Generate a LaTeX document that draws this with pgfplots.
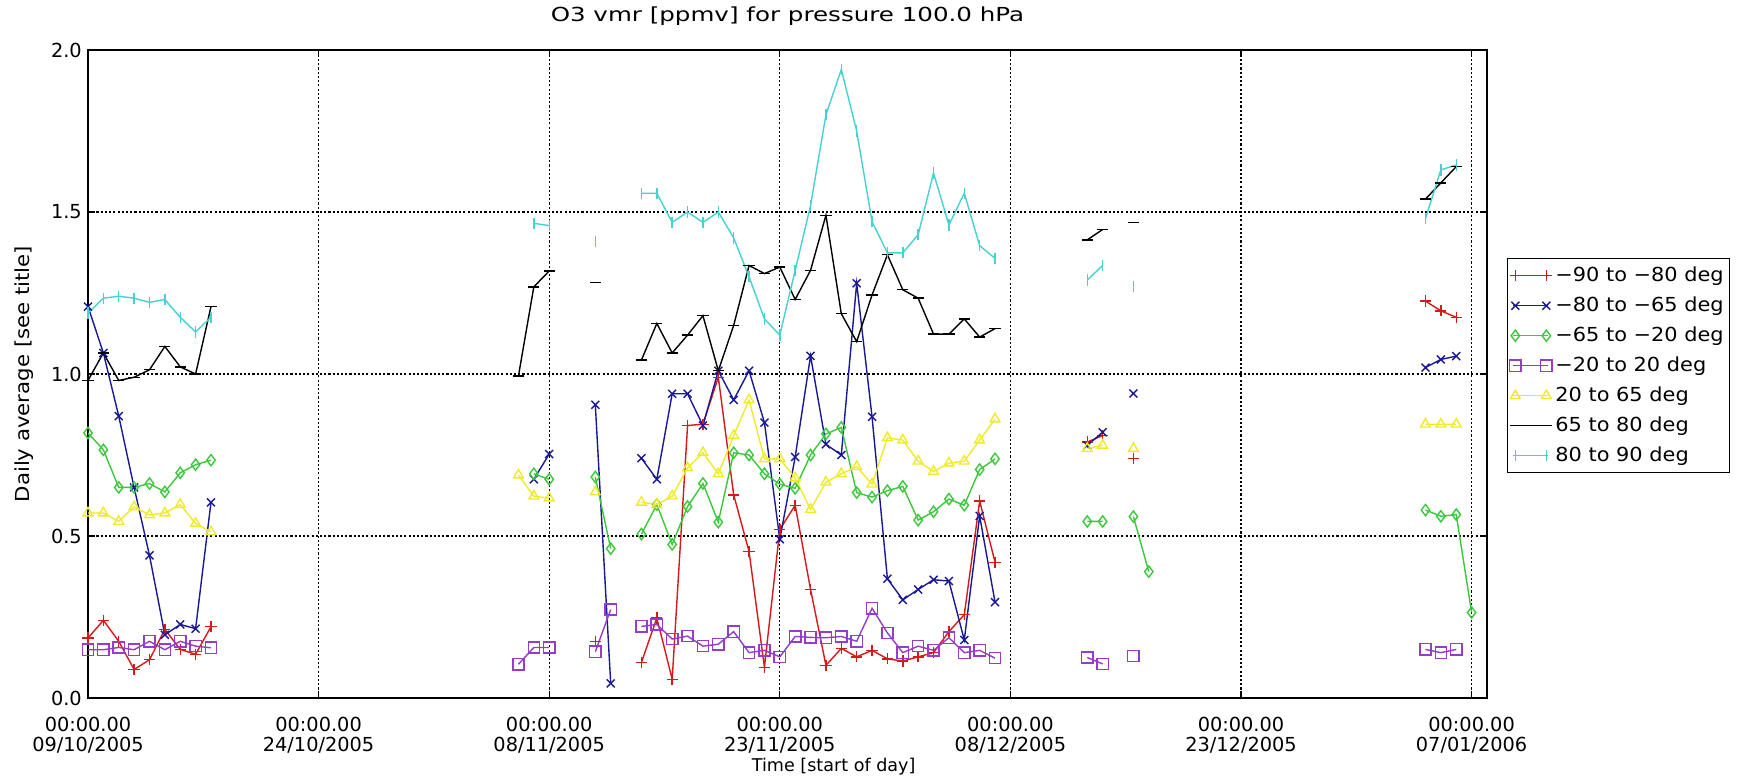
\documentclass[border=0pt]{standalone}
\usepackage{fontspec}
\setmainfont{DejaVu Sans}
\newfontfamily\titlefont{DejaVu Sans}[FakeStretch=1.27]
\newfontfamily\legfont{DejaVu Sans}[FakeStretch=1.08]
\newfontfamily\ylabfont{DejaVu Sans}[FakeStretch=1.1]
\usepackage{pgfplots}
\pgfplotsset{compat=1.18}
\definecolor{cred}{RGB}{215,25,25}
\definecolor{cblue}{RGB}{25,25,150}
\definecolor{cgreen}{RGB}{60,200,60}
\definecolor{cpurple}{RGB}{150,60,200}
\definecolor{cyellow}{RGB}{240,235,40}
\definecolor{ccyan}{RGB}{70,210,210}
\begin{document}
\begin{tikzpicture}
\useasboundingbox (0,0) rectangle (348mm,156.6mm);
\begin{axis}[
  at={(17.6mm,17mm)}, anchor=south west,
  scale only axis, width=279.8mm, height=129.6mm,
  xmin=0, xmax=91, ymin=0, ymax=2,
  unbounded coords=jump,
  xtick={0,15,30,45,60,75,90},
  xticklabels={{00:00.00\\09/10/2005},{00:00.00\\24/10/2005},{00:00.00\\08/11/2005},{00:00.00\\23/11/2005},{00:00.00\\08/12/2005},{00:00.00\\23/12/2005},{00:00.00\\07/01/2006}},
  xticklabel style={align=center, font=\fontsize{11}{11.5}\selectfont, yshift=-2.5mm},
  ytick={0,0.5,1,1.5,2},
  yticklabels={0.0,0.5,1.0,1.5,2.0},
  yticklabel style={font=\fontsize{11}{12}\selectfont},
  grid=major,
  major grid style={black, line width=0.75pt, dash pattern=on 1.2pt off 1.2pt},
  axis line style={black, line width=1.1pt},
  tick align=inside, major tick length=1.4mm,
  tick style={black, line width=0.6pt},
  title={O3 vmr [ppmv] for pressure 100.0 hPa},
  title style={at={(axis description cs:0.5,1.0525)}, anchor=center, yshift=-6pt, font=\titlefont\fontsize{11}{12}\selectfont},
  xlabel={Time [start of day]},
  xlabel style={at={(axis description cs:0.533,-0.1065)}, anchor=center, font=\fontsize{10}{12}\selectfont},
  ylabel={Daily average [see title]},
  ylabel style={at={(axis description cs:-0.0457,0.5)}, anchor=center, font=\ylabfont\fontsize{11}{12}\selectfont},
  every axis plot/.append style={line width=0.8pt, mark size=3.2pt},
  legend style={at={(axis description cs:1.0143,0.679)}, anchor=north west, draw=black, line width=0.8pt,
    font=\legfont\fontsize{11}{12}\selectfont, inner sep=0.4mm, row sep=0pt,
    nodes={inner sep=0.7mm, text height=3.4mm, text depth=1.2mm}, legend cell align=left},
  legend image code/.code={
    \draw[#1, mark=none] (-0.4mm,0mm) -- (6.6mm,0mm);
    \draw[#1, only marks] plot coordinates {(0mm,0mm) (6.2mm,0mm)};
  },
]
\addplot[color=cred, mark=+] coordinates {
(0,0.185)(1,0.24)(2,0.175)(3,0.088)(4,0.118)(5,0.212)(6,0.15)(7,0.135)(8,0.22)
(20,nan)
(33,0.175)
(35,nan)
(36,0.11)(37,0.247)(38,0.058)(39,0.841)(40,0.845)(41,0.99)(42,0.627)(43,0.452)(44,0.095)(45,0.52)(46,0.595)(47,0.335)(48,0.101)(49,0.153)(50,0.127)(51,0.147)(52,0.121)(53,0.114)(54,0.127)(55,0.14)(56,0.205)(57,0.257)(58,0.608)(59,0.419)
(62,nan)
(65,0.79)(66,0.81)(67,nan)(68,0.74)
(75,nan)
(87,1.225)(88,1.195)(89,1.175)
};
\addlegendentry{−90 to −80 deg}
\addplot[color=cblue, mark=x] coordinates {
(0,1.208)(1,1.065)(2,0.87)(3,0.65)(4,0.44)(5,0.195)(6,0.227)(7,0.214)(8,0.604)
(20,nan)
(29,0.675)(30,0.753)
(31,nan)
(33,0.905)(34,0.045)
(35,nan)
(36,0.74)(37,0.675)(38,0.939)(39,0.939)(40,0.841)(41,1.01)(42,0.92)(43,1.01)(44,0.85)(45,0.49)(46,0.744)(47,1.056)(48,0.783)(49,0.75)(50,1.28)(51,0.868)(52,0.368)(53,0.303)(54,0.335)(55,0.365)(56,0.361)(57,0.179)(58,0.562)(59,0.296)
(62,nan)
(65,0.78)(66,0.82)(67,nan)(68,0.94)
(75,nan)
(87,1.02)(88,1.045)(89,1.055)
};
\addlegendentry{−80 to −65 deg}
\addplot[color=cgreen, mark=diamond] coordinates {
(0,0.818)(1,0.766)(2,0.65)(3,0.65)(4,0.662)(5,0.636)(6,0.695)(7,0.72)(8,0.734)
(20,nan)
(29,0.692)(30,0.675)
(31,nan)
(33,0.682)(34,0.461)
(35,nan)
(36,0.506)(37,0.597)(38,0.474)(39,0.591)(40,0.662)(41,0.543)(42,0.757)(43,0.75)(44,0.692)(45,0.66)(46,0.647)(47,0.75)(48,0.815)(49,0.835)(50,0.634)(51,0.62)(52,0.64)(53,0.653)(54,0.549)(55,0.575)(56,0.614)(57,0.595)(58,0.705)(59,0.738)
(62,nan)
(65,0.545)(66,0.545)(67,nan)(68,0.56)(69,0.39)
(75,nan)
(87,0.58)(88,0.561)(89,0.566)(90,0.264)
};
\addlegendentry{−65 to −20 deg}
\addplot[color=cpurple, mark=square] coordinates {
(0,0.149)(1,0.149)(2,0.156)(3,0.149)(4,0.175)(5,0.149)(6,0.175)(7,0.16)(8,0.155)
(20,nan)
(28,0.104)(29,0.156)(30,0.156)
(31,nan)
(33,0.143)(34,0.273)
(35,nan)
(36,0.221)(37,0.227)(38,0.182)(39,0.191)(40,0.16)(41,0.166)(42,0.205)(43,0.14)(44,0.147)(45,0.127)(46,0.19)(47,0.187)(48,0.186)(49,0.19)(50,0.175)(51,0.277)(52,0.201)(53,0.14)(54,0.16)(55,0.147)(56,0.186)(57,0.14)(58,0.147)(59,0.123)
(62,nan)
(65,0.125)(66,0.105)(67,nan)(68,0.13)
(75,nan)
(87,0.15)(88,0.14)(89,0.15)
};
\addlegendentry{−20 to 20 deg}
\addplot[color=cyellow, mark=triangle] coordinates {
(0,0.571)(1,0.571)(2,0.545)(3,0.59)(4,0.565)(5,0.571)(6,0.597)(7,0.539)(8,0.513)
(20,nan)
(28,0.688)(29,0.623)(30,0.617)
(31,nan)
(33,0.636)
(35,nan)
(36,0.604)(37,0.597)(38,0.623)(39,0.71)(40,0.757)(41,0.692)(42,0.81)(43,0.92)(44,0.738)(45,0.738)(46,0.679)(47,0.582)(48,0.666)(49,0.692)(50,0.714)(51,0.66)(52,0.803)(53,0.796)(54,0.731)(55,0.699)(56,0.725)(57,0.731)(58,0.796)(59,0.861)
(62,nan)
(65,0.77)(66,0.78)(67,nan)(68,0.77)
(75,nan)
(87,0.845)(88,0.845)(89,0.845)
};
\addlegendentry{20 to 65 deg}
\addplot[color=black, mark=-] coordinates {
(0,0.98)(1,1.065)(2,0.98)(3,0.99)(4,1.013)(5,1.085)(6,1.022)(7,1.0)(8,1.208)
(20,nan)
(28,0.994)(29,1.269)(30,1.318)
(31,nan)
(33,1.283)
(35,nan)
(36,1.043)(37,1.156)(38,1.065)(39,1.12)(40,1.18)(41,1.01)(42,1.15)(43,1.335)(44,1.31)(45,1.33)(46,1.23)(47,1.32)(48,1.49)(49,1.186)(50,1.10)(51,1.244)(52,1.368)(53,1.26)(54,1.234)(55,1.123)(56,1.123)(57,1.17)(58,1.114)(59,1.14)
(62,nan)
(65,1.414)(66,1.446)(67,nan)(68,1.467)
(75,nan)
(87,1.54)(88,1.59)(89,1.64)
};
\addlegendentry{65 to 80 deg}
\addplot[color=ccyan, mark=|] coordinates {
(0,1.188)(1,1.234)(2,1.24)(3,1.234)(4,1.221)(5,1.23)(6,1.175)(7,1.13)(8,1.175)
(20,nan)
(29,1.465)(30,1.458)
(31,nan)
(33,1.409)
(35,nan)
(36,1.558)(37,1.558)(38,1.468)(39,1.5)(40,1.468)(41,1.5)(42,1.42)(43,1.30)(44,1.17)(45,1.12)(46,1.32)(47,1.52)(48,1.80)(49,1.94)(50,1.75)(51,1.47)(52,1.374)(53,1.374)(54,1.43)(55,1.62)(56,1.46)(57,1.558)(58,1.396)(59,1.357)
(62,nan)
(65,1.29)(66,1.335)(67,nan)(68,1.27)
(75,nan)
(87,1.48)(88,1.63)(89,1.645)
};
\addlegendentry{80 to 90 deg}
\end{axis}
\end{tikzpicture}
\end{document}
